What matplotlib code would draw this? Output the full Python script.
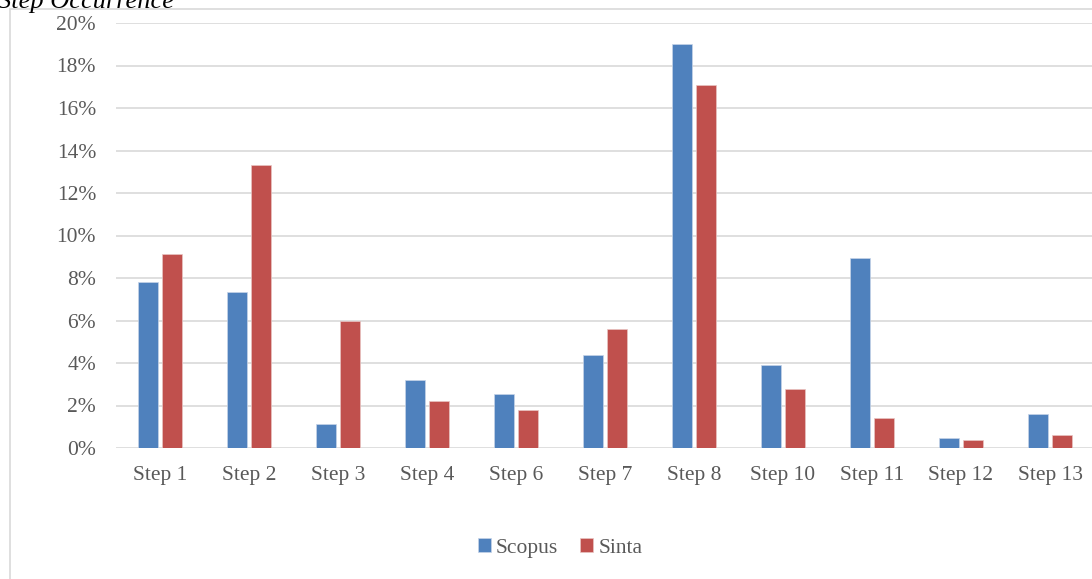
import numpy as np
import matplotlib.pyplot as plt
from matplotlib.patches import Rectangle

# data
steps = ['Step 1', 'Step 2', 'Step 3', 'Step 4', 'Step 6', 'Step 7',
         'Step 8', 'Step 10', 'Step 11', 'Step 12', 'Step 13']
scopus = [7.8, 7.35, 1.15, 3.2, 2.55, 4.4, 19.0, 3.9, 8.95, 0.45, 1.6]
sinta = [9.15, 13.3, 6.0, 2.2, 1.8, 5.6, 17.1, 2.8, 1.4, 0.4, 0.6]

blue = '#4f81bd'
red = '#c0504d'
grey_txt = '#595959'
grid_col = '#d9d9d9'

plt.rcParams['font.family'] = ['Liberation Serif', 'DejaVu Serif']

fig = plt.figure(figsize=(10.92, 5.79), dpi=100)

# chart border (cut off at right and bottom)
fig.patches.append(Rectangle((10 / 1092, -0.01), 1.1, 1 - 9 / 579 + 0.01,
                             transform=fig.transFigure, fill=False,
                             edgecolor=grid_col, linewidth=1.2))

# italic title, partly cut off at the top
fig.text(-0.002, 1 - 8 / 579, 'Step Occurrence', fontsize=19, style='italic',
         color='black', ha='left', va='baseline')

ax = fig.add_axes([115.5 / 1092, 1 - 448 / 579, 979 / 1092, (448 - 23) / 579])

x = np.arange(len(steps))
w = 0.225
gap = 0.055
ax.bar(x - (w + gap) / 2, scopus, w, color=blue, label='Scopus', zorder=3,
       edgecolor='#c6d4e8', linewidth=0.5)
ax.bar(x + (w + gap) / 2, sinta, w, color=red, label='Sinta', zorder=3,
       edgecolor='#e8c4c3', linewidth=0.5)

ax.set_xlim(-0.5, len(steps) - 0.5)
ax.set_ylim(0, 20)
ax.set_yticks(np.arange(0, 21, 2))
ax.set_yticklabels([f'{v}%' for v in range(0, 21, 2)])
ax.set_xticks(x)
ax.set_xticklabels(steps)
ax.grid(axis='y', color=grid_col, linewidth=1.2, zorder=0)
for s in ax.spines.values():
    s.set_visible(False)
ax.tick_params(axis='both', length=0, colors=grey_txt, labelsize=15.5)
ax.tick_params(axis='y', pad=14)
ax.tick_params(axis='x', pad=13)

leg = fig.legend(loc='center', bbox_to_anchor=(560 / 1092, 1 - 548 / 579),
                 ncol=2, frameon=False, fontsize=15.5, handlelength=0.6,
                 handleheight=0.6, handletextpad=0.25, columnspacing=1.0)
for t in leg.get_texts():
    t.set_color(grey_txt)

fig.savefig('out.png', dpi=100)
